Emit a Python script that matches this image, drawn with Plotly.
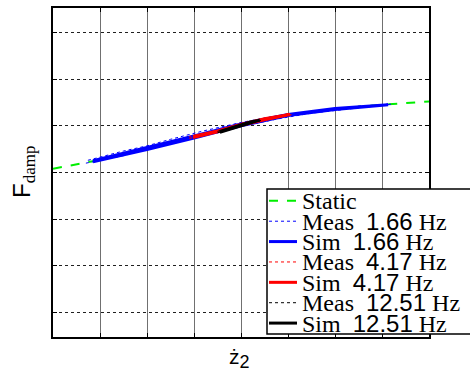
import plotly.graph_objects as go

# ---- data ----
static_x = [-4, -3, -2, -1, -0.5, 0, 0.5, 1, 2, 3, 4]
static_y = [0.08, 0.27, 0.51, 0.76, 0.88, 1.02, 1.14, 1.23, 1.36, 1.45, 1.52]

meas_166_x = [-3.3, -3.0, -2.5, -2.0, -1.5, -0.8, 0, 0.8, 1.5, 2.5, 3.2, 2.5, 1.5, 0.8, 0, -0.8, -1.5, -2.0, -2.5, -3.0, -3.3]
meas_166_y = [0.20, 0.26, 0.36, 0.50, 0.61, 0.78, 0.99, 1.15, 1.27, 1.39, 1.46, 1.42, 1.31, 1.22, 1.07, 0.89, 0.71, 0.57, 0.46, 0.33, 0.25]
sim_166_x = [-3.15, -2, -1, 0, 1, 2, 3.13, 2, 1, 0, -1, -2, -3.15]
sim_166_y = [0.23, 0.49, 0.74, 1.00, 1.22, 1.35, 1.45, 1.37, 1.24, 1.04, 0.78, 0.53, 0.25]

meas_417_x = [-1.1, -0.5, 0, 0.5, 1.1, 0.5, 0, -0.5, -1.1]
meas_417_y = [0.73, 0.86, 1.00, 1.12, 1.24, 1.16, 1.05, 0.90, 0.77]
sim_417_x = [-1.02, -0.5, 0, 0.5, 1.04, 0.5, 0, -0.5, -1.02]
sim_417_y = [0.75, 0.87, 1.01, 1.13, 1.24, 1.15, 1.03, 0.89, 0.77]

meas_1251_x = [-0.5, -0.2, 0, 0.2, 0.45, 0.2, 0, -0.2, -0.5]
meas_1251_y = [0.85, 0.93, 0.99, 1.06, 1.12, 1.08, 1.03, 0.96, 0.88]
sim_1251_x = [-0.45, -0.2, 0, 0.2, 0.40, 0.2, 0, -0.2, -0.45]
sim_1251_y = [0.86, 0.94, 1.00, 1.07, 1.12, 1.08, 1.02, 0.95, 0.88]

series_names = ["Static", "Meas", "Sim", "Meas", "Sim", "Meas", "Sim"]
series_freqs = ["", "1.66", "1.66", "4.17", "4.17", "12.51", "12.51"]

SANS = "Liberation Sans"
SERIF = "Liberation Serif"
NB = "\u00a0"

# ---- layout geometry (pixels) ----
W, H = 470, 374
L, R, T, B = 53, 41, 6, 37
PW, PH = W - L - R, H - T - B

def px(x):
    return (x - L) / PW

def py(y):
    return (H - B - y) / PH

styles = [
    ("#00ee00", "dash", 2),
    ("#0000ff", "dot", 1),
    ("#0000ff", "solid", 3),
    ("#ff0000", "dot", 1),
    ("#ff0000", "solid", 3),
    ("#000000", "dot", 1),
    ("#000000", "solid", 3),
]
data = [
    (static_x, static_y), (meas_166_x, meas_166_y), (sim_166_x, sim_166_y),
    (meas_417_x, meas_417_y), (sim_417_x, sim_417_y),
    (meas_1251_x, meas_1251_y), (sim_1251_x, sim_1251_y),
]

def label(name, freq):
    if not freq:
        return name
    return f'{name}{NB}{NB}<span style="font-family:{SANS}">{freq}</span>{NB}Hz'

fig = go.Figure()
for (x, y), (c, d, w), n, f in zip(data, styles, series_names, series_freqs):
    fig.add_trace(go.Scatter(x=x, y=y, mode="lines", name=label(n, f), showlegend=False,
                             line=dict(color=c, dash=d, width=w)))

axis_common = dict(showline=True, mirror="ticks", linecolor="black", linewidth=2,
                   ticks="inside", ticklen=4, tickcolor="black", showticklabels=False,
                   zeroline=False, dtick=1)
fig.update_xaxes(range=[-4, 4], showgrid=True, gridcolor="#707070", gridwidth=1,
                 **axis_common)
fig.update_yaxes(range=[-3.52, 3.52], tick0=0, showgrid=True, gridcolor="#202020",
                 gridwidth=1, griddash="dot", **axis_common)

# axis labels
fig.add_annotation(text='ż<sub><span style="font-size:18px">2</span></sub>',
                   xref="paper", yref="paper", x=px(239), y=py(359),
                   showarrow=False, xanchor="center", yanchor="middle",
                   font=dict(family=SANS, size=21, color="black"))
fig.add_annotation(text=f'F<sub><span style="font-family:{SERIF};font-size:17px">damp</span></sub>',
                   xref="paper", yref="paper", x=px(23), y=py(171), textangle=-90,
                   showarrow=False, xanchor="center", yanchor="middle",
                   font=dict(family=SANS, size=24, color="black"))

# custom legend (box, sample lines, texts)
box_x0, box_x1, box_y0, box_y1 = 267, 472, 188, 334
fig.add_shape(type="rect", xref="paper", yref="paper",
              x0=px(box_x0), x1=px(box_x1), y0=py(box_y1), y1=py(box_y0),
              fillcolor="white", line=dict(color="black", width=1.5), layer="above")
row0, row_step = 200, 20.5
for i, ((c, d, w), n, f) in enumerate(zip(styles, series_names, series_freqs)):
    yc = row0 + i * row_step
    fig.add_shape(type="line", xref="paper", yref="paper",
                  x0=px(269), x1=px(297), y0=py(yc), y1=py(yc),
                  line=dict(color=c, dash=d, width=w), layer="above")
    fig.add_annotation(text=label(n, f), xref="paper", yref="paper",
                       x=px(301), y=py(yc), xanchor="left", yanchor="middle",
                       showarrow=False, borderpad=0,
                       font=dict(family=SERIF, size=24, color="black"))

fig.update_layout(
    width=W, height=H,
    margin=dict(l=L, r=R, t=T, b=B),
    plot_bgcolor="white", paper_bgcolor="white",
    showlegend=False,
)

fig.write_html("out.html", config={"displayModeBar": False},
               post_script="document.body.style.margin='0px';document.body.style.overflow='hidden';")
